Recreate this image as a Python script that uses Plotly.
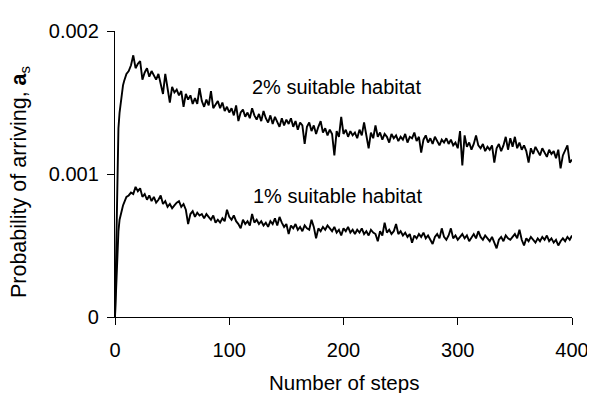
import plotly.graph_objects as go

# Number of steps (x)
steps = list(range(0, 11)) + list(range(12, 401, 2))

# Probability of arriving, in units of 1e-5
p2_e5 = [0, 55, 105, 132, 143, 150, 157, 162, 165, 168, 170,
         172, 176, 183, 174, 177, 179, 166, 171, 174, 168,
         172, 169, 166, 170, 163, 156, 170, 158, 150, 161,
         157, 159, 155, 158, 147, 156, 152, 155, 149, 153,
         149, 160, 151, 147, 152, 148, 158, 146, 149, 151,
         146, 150, 144, 147, 143, 146, 141, 148, 137, 143,
         145, 140, 143, 139, 146, 141, 138, 142, 137, 144,
         139, 136, 141, 135, 140, 137, 133, 139, 134, 138,
         135, 139, 133, 137, 131, 136, 134, 121, 133, 136,
         130, 134, 128, 133, 137, 129, 132, 127, 131, 128,
         113, 130, 126, 140, 128, 131, 126, 130, 127, 129,
         125, 131, 127, 136, 126, 118, 129, 125, 134, 126,
         129, 124, 128, 126, 122, 128, 125, 127, 123, 126,
         124, 128, 122, 126, 125, 129, 123, 126, 115, 124,
         127, 122, 125, 121, 126, 123, 120, 124, 122, 125,
         121, 124, 120, 122, 118, 130, 106, 127, 119, 122,
         117, 121, 127, 120, 118, 121, 116, 119, 117, 120,
         108, 118, 121, 116, 120, 126, 117, 125, 119, 126,
         118, 122, 117, 120, 116, 108, 118, 114, 119, 116,
         113, 118, 115, 112, 117, 114, 116, 111, 117, 104,
         113, 116, 120, 108, 110]

p1_e5 = [0, 25, 45, 60, 68, 72, 75, 78, 80, 82, 84,
         85, 87, 86, 91, 88, 90, 84, 86, 82, 85,
         81, 84, 80, 82, 85, 79, 81, 77, 79, 76,
         78, 80, 81, 77, 79, 75, 65, 72, 74, 70,
         73, 71, 72, 69, 72, 70, 68, 71, 66, 68,
         66, 69, 67, 75, 70, 68, 71, 67, 65, 62,
         68, 65, 67, 64, 72, 66, 68, 65, 67, 64,
         66, 63, 67, 65, 69, 64, 70, 66, 63, 65,
         58, 64, 62, 65, 61, 63, 60, 64, 62, 61,
         68, 63, 55, 62, 60, 63, 61, 64, 62, 60,
         63, 59, 61, 57, 62, 60, 63, 59, 61, 58,
         61, 59, 62, 58, 60, 57, 61, 59, 58, 53,
         60, 57, 66, 59, 61, 58, 60, 65, 58, 60,
         57, 59, 56, 58, 52, 57, 55, 58, 56, 59,
         55, 57, 54, 51, 56, 58, 55, 62, 56, 54,
         57, 62, 55, 57, 54, 56, 58, 55, 57, 53,
         56, 58, 55, 60, 56, 54, 57, 55, 53, 56,
         52, 48, 54, 56, 53, 57, 55, 54, 56, 58,
         55, 61, 54, 50, 55, 53, 56, 54, 52, 55,
         53, 56, 54, 57, 53, 55, 52, 54, 50, 53,
         55, 53, 56, 54, 57]

series_labels = ["2% suitable habitat", "1% suitable habitat"]
x_ticks = [0, 100, 200, 300, 400]
y_ticks = [0, 0.001, 0.002]
y_ticklabels = ["0", "0.001", "0.002"]
x_title = "Number of steps"
y_title = "Probability of arriving, <b>a</b><sub>s</sub>"

p2 = [v * 1e-5 for v in p2_e5]
p1 = [v * 1e-5 for v in p1_e5]

FONT = "Liberation Sans, Arial, Helvetica, sans-serif"

fig = go.Figure()
for ys in (p2, p1):
    fig.add_trace(go.Scatter(x=steps, y=ys, mode="lines",
                             line=dict(color="black", width=1.9),
                             showlegend=False, hoverinfo="skip"))

fig.add_annotation(x=118, y=0.00161, text=series_labels[0], showarrow=False,
                   xanchor="left", yanchor="middle",
                   font=dict(family=FONT, size=20, color="black"))
fig.add_annotation(x=119, y=0.000847, text=series_labels[1], showarrow=False,
                   xanchor="left", yanchor="middle",
                   font=dict(family=FONT, size=20, color="black"))

# axis titles
fig.add_annotation(xref="paper", yref="paper", x=0.5, y=0, yshift=-65,
                   text=x_title, showarrow=False, xanchor="center", yanchor="middle",
                   font=dict(family=FONT, size=20.5, color="black"))
fig.add_annotation(xref="paper", yref="paper", x=0, y=0.47, xshift=-94.5,
                   text=y_title, showarrow=False, textangle=-90,
                   xanchor="center", yanchor="middle",
                   font=dict(family=FONT, size=21.5, color="black"))

axis_common = dict(showline=True, linecolor="black", linewidth=1.3,
                   ticks="outside", ticklen=7, tickwidth=1.3, tickcolor="black",
                   showgrid=False, zeroline=False,
                   tickfont=dict(family=FONT, size=20, color="black"))

fig.update_xaxes(range=[0, 400], tickvals=x_ticks, ticklabelstandoff=8, **axis_common)
fig.update_yaxes(range=[0, 0.002], tickvals=y_ticks, ticktext=y_ticklabels,
                 ticklabelstandoff=4, **axis_common)

fig.update_layout(width=595, height=393,
                  margin=dict(l=107, r=31, t=13, b=84),
                  plot_bgcolor="white", paper_bgcolor="white",
                  font=dict(family=FONT, size=20, color="black"))

fig.write_html("out.html")
